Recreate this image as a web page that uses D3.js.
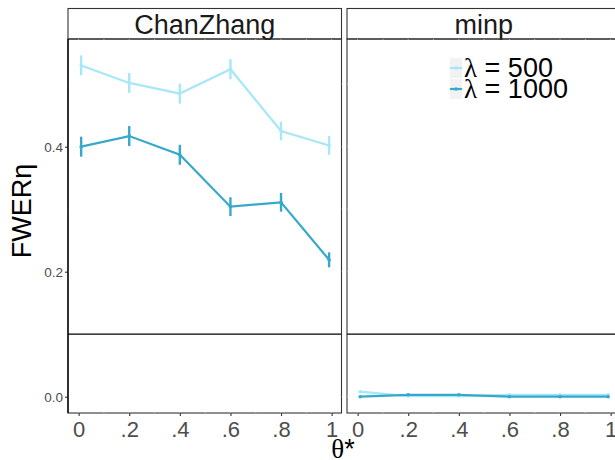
<!DOCTYPE html>
<html>
<head>
<meta charset="utf-8">
<script src="https://cdn.jsdelivr.net/npm/d3@7"></script>
<style>
  body { margin: 0; background: #fff; }
  svg { display: block; font-family: "Liberation Sans", Arial, sans-serif; }
</style>
</head>
<body>
<div id="chart"></div>
<script>
// data
var panels = ["ChanZhang", "minp"];
var thetas = [0.01, 0.2, 0.4, 0.6, 0.8, 0.99];
var lambdas = ["500", "1000"];
var cz500 = [0.530, 0.502, 0.485, 0.524, 0.425, 0.402];
var cz500se = [0.016, 0.016, 0.016, 0.016, 0.015, 0.015];
var cz1000 = [0.400, 0.417, 0.387, 0.304, 0.311, 0.219];
var cz1000se = [0.016, 0.016, 0.016, 0.015, 0.015, 0.012];
var mp500 = [0.008, 0.001, 0.001, 0.003, 0.003, 0.003];
var mp500se = [0.001, 0.001, 0.001, 0.001, 0.001, 0.001];
var mp1000 = [0.000, 0.003, 0.003, 0.000, 0.000, 0.000];
var mp1000se = [0.001, 0.001, 0.001, 0.001, 0.001, 0.001];
var xTicks = [0, 0.2, 0.4, 0.6, 0.8, 1];
var xTickLabels = ["0", ".2", ".4", ".6", ".8", "1"];
var yTicks = [0, 0.2, 0.4];
var hline = 0.1;

function drawChart() {
  var colors = { "500": "#a6e7f8", "1000": "#36a9ca" };

  var series = {
    "ChanZhang": [
      { lambda: "500", y: cz500, se: cz500se },
      { lambda: "1000", y: cz1000, se: cz1000se }
    ],
    "minp": [
      { lambda: "500", y: mp500, se: mp500se },
      { lambda: "1000", y: mp1000, se: mp1000se }
    ]
  };

  var w = 615, h = 460;
  var panelW = 273.5;
  var panelX = [68, 347];
  var pTop = 39, pBottom = 413, stripTop = 8.5;

  var svg = d3.select("#chart").append("svg")
    .attr("width", w)
    .attr("height", h);

  var yScale = d3.scaleLinear()
    .domain([-0.0261, 0.5723])
    .range([pBottom, pTop]);

  panels.forEach(function(p, i) {
    var x0 = panelX[i];
    var xScale = d3.scaleLinear()
      .domain([-0.042, 1.039])
      .range([x0, x0 + panelW]);

    var g = svg.append("g");

    // strip
    g.append("rect")
      .attr("x", x0).attr("y", stripTop)
      .attr("width", panelW).attr("height", pTop - stripTop)
      .attr("fill", "#fff").attr("stroke", "#333").attr("stroke-width", 1.1);
    g.append("text")
      .attr("x", x0 + panelW / 2).attr("y", pTop - 5)
      .attr("text-anchor", "middle")
      .attr("font-size", "27px")
      .attr("fill", "#1a1a1a")
      .text(p);

    // panel border
    g.append("rect")
      .attr("x", x0).attr("y", pTop)
      .attr("width", panelW).attr("height", pBottom - pTop)
      .attr("fill", "none").attr("stroke", "#333").attr("stroke-width", 1.1);

    // white grid lines (visible only where they cross the borders)
    var xMinor = [0.1, 0.3, 0.5, 0.7, 0.9];
    g.selectAll(".gx").data(xTicks.concat(xMinor)).enter().append("line")
      .attr("x1", function(d) { return xScale(d); })
      .attr("x2", function(d) { return xScale(d); })
      .attr("y1", pTop).attr("y2", pBottom)
      .attr("stroke", "#fff").attr("stroke-width", 0.8)
      .attr("opacity", 0.6);
    g.selectAll(".gy").data([0, 0.1, 0.2, 0.3, 0.4, 0.5]).enter().append("line")
      .attr("x1", x0).attr("x2", x0 + panelW)
      .attr("y1", function(d) { return yScale(d); })
      .attr("y2", function(d) { return yScale(d); })
      .attr("stroke", "#fff").attr("stroke-width", 0.8)
      .attr("opacity", 0.6);

    // reference line
    g.append("line")
      .attr("x1", x0).attr("x2", x0 + panelW)
      .attr("y1", yScale(hline)).attr("y2", yScale(hline))
      .attr("stroke", "#000").attr("stroke-width", 1.2);

    // x axis
    var xAxis = d3.axisBottom(xScale)
      .tickValues(xTicks)
      .tickSize(3)
      .tickFormat(function(d, k) { return xTickLabels[k]; });
    var xa = g.append("g")
      .attr("transform", "translate(0," + pBottom + ")")
      .call(xAxis);
    xa.select(".domain").remove();
    xa.selectAll("line").attr("stroke", "#333").attr("stroke-width", 1.1);
    xa.selectAll("text")
      .attr("font-size", "22px")
      .attr("font-family", "Liberation Sans, Arial, sans-serif")
      .attr("fill", "#4d4d4d")
      .attr("dy", "0.95em")
      .attr("y", 3);

    // series
    var line = d3.line()
      .x(function(d) { return xScale(d.x); })
      .y(function(d) { return yScale(d.y); });

    series[p].forEach(function(s) {
      var pts = thetas.map(function(t, k) { return { x: t, y: s.y[k], se: s.se[k] }; });
      var col = colors[s.lambda];
      g.append("path")
        .datum(pts)
        .attr("d", line)
        .attr("fill", "none")
        .attr("stroke", col)
        .attr("stroke-width", 2.2);
      g.selectAll(null).data(pts).enter().append("line")
        .attr("x1", function(d) { return xScale(d.x); })
        .attr("x2", function(d) { return xScale(d.x); })
        .attr("y1", function(d) { return yScale(d.y - d.se); })
        .attr("y2", function(d) { return yScale(d.y + d.se); })
        .attr("stroke", col)
        .attr("stroke-width", 2.4);
      g.selectAll(null).data(pts).enter().append("circle")
        .attr("cx", function(d) { return xScale(d.x); })
        .attr("cy", function(d) { return yScale(d.y); })
        .attr("r", 1.8)
        .attr("fill", col);
    });

    if (i === 0) {
      // y axis
      var yAxis = d3.axisLeft(yScale)
        .tickValues(yTicks)
        .tickSize(3)
        .tickFormat(d3.format(".1f"));
      var ya = g.append("g")
        .attr("transform", "translate(" + x0 + ",0)")
        .call(yAxis);
      ya.select(".domain").remove();
      ya.selectAll("line").attr("stroke", "#333").attr("stroke-width", 1.1);
      ya.selectAll("text")
        .attr("font-size", "13.5px")
        .attr("font-family", "Liberation Sans, Arial, sans-serif")
        .attr("fill", "#4d4d4d")
        .attr("x", -5);
      g.append("line")
        .attr("x1", x0).attr("x2", x0)
        .attr("y1", pTop).attr("y2", pBottom)
        .attr("stroke", "#000").attr("stroke-width", 1.3);
    }
  });

  // axis titles
  svg.append("text")
    .attr("transform", "translate(31,211) rotate(-90)")
    .attr("text-anchor", "middle")
    .attr("font-size", "27px")
    .attr("fill", "#000")
    .text("FWERη");

  var xt = svg.append("text")
    .attr("x", 343).attr("y", 458)
    .attr("text-anchor", "middle")
    .attr("font-size", "27px")
    .attr("fill", "#000");
  xt.append("tspan").attr("font-family", "Liberation Serif, serif").text("θ");
  xt.append("tspan").text("*");

  // legend
  var legend = svg.append("g").attr("transform", "translate(450,58)");
  lambdas.forEach(function(l, k) {
    var ky = k * 21;
    legend.append("rect")
      .attr("x", 0).attr("y", ky)
      .attr("width", 12).attr("height", 20)
      .attr("fill", "#f2f2f2");
    legend.append("line")
      .attr("x1", 0).attr("x2", 12)
      .attr("y1", ky + 10).attr("y2", ky + 10)
      .attr("stroke", colors[l]).attr("stroke-width", 2.2);
    legend.append("circle")
      .attr("cx", 6).attr("cy", ky + 10).attr("r", 1.8)
      .attr("fill", colors[l]);
    var t = legend.append("text")
      .attr("x", 14).attr("y", ky + 19)
      .attr("font-size", "27px")
      .attr("fill", "#000");
    t.append("tspan").attr("font-family", "Liberation Serif, serif").text("λ");
    t.append("tspan").text(" = " + l);
  });
}

drawChart();
</script>
</body>
</html>
